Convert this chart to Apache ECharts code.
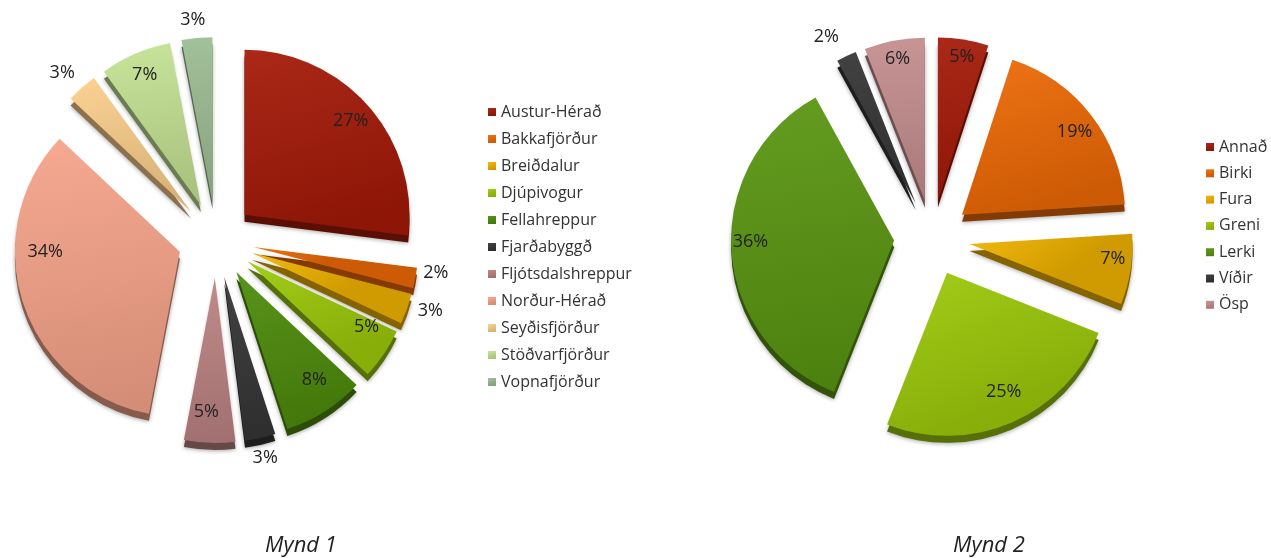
<!DOCTYPE html>
<html>
<head>
<meta charset="utf-8">
<script src="https://cdn.jsdelivr.net/npm/echarts@6/dist/echarts.min.js"></script>
<style>
html,body{margin:0;padding:0;background:#fff;}
#c{width:1271px;height:558px;}
</style>
</head>
<body>
<div id="c"></div>
<script>
// ---- Data ----
const cats1 = ['Austur-Hérað','Bakkafjörður','Breiðdalur','Djúpivogur','Fellahreppur','Fjarðabyggð','Fljótsdalshreppur','Norður-Hérað','Seyðisfjörður','Stöðvarfjörður','Vopnafjörður'];
const vals1 = [27, 2, 3, 5, 8, 3, 5, 34, 3, 7, 3];
const outside1 = ['Bakkafjörður','Breiðdalur','Fjarðabyggð','Seyðisfjörður','Vopnafjörður'];

const cats2 = ['Annað','Birki','Fura','Greni','Lerki','Víðir','Ösp'];
const vals2 = [5, 19, 7, 25, 36, 2, 6];
const outside2 = ['Víðir'];

const titles = ['Mynd 1', 'Mynd 2'];

// ---- Styles ----
const colors1 = ['#a51a08','#ee6a06','#f2b400','#9dca0a','#4e8c0c','#363636','#bc8282','#f6a48a','#fccf8c','#c4e294','#9cbc92'];
const colors2 = ['#a51a08','#ee6a06','#f2b400','#9dca0a','#5a9612','#363636','#c48e8e'];

// small label nudges (px) to mimic the tilted 3D layout of the original
const labelNudge = {
  'Norður-Hérað': [0, -44], 'Djúpivogur': [2, -14], 'Fellahreppur': [2, -12],
  'Fljótsdalshreppur': [-4, -8], 'Vopnafjörður': [14, -12], 'Seyðisfjörður': [2, -10],
  'Bakkafjörður': [-3, -6], 'Fjarðabyggð': [-14, 14],
  'Víðir': [0, -14], 'Annað': [2, -5], 'Ösp': [-1, -4], 'Fura': [5, -7],
  'Greni': [1, -9], 'Lerki': [-4, -7], 'Birki': [2, 3]
};

function shade(hex, f) {
  const n = parseInt(hex.slice(1), 16);
  let r = (n >> 16) & 255, g = (n >> 8) & 255, b = n & 255;
  if (f < 0) { r = Math.round(r * (1 + f)); g = Math.round(g * (1 + f)); b = Math.round(b * (1 + f)); }
  else { r = Math.round(r + (255 - r) * f); g = Math.round(g + (255 - g) * f); b = Math.round(b + (255 - b) * f); }
  return 'rgb(' + r + ',' + g + ',' + b + ')';
}
function grad(hex) {
  return { type: 'linear', x: 0, y: 0, x2: 0.3, y2: 1,
    colorStops: [{ offset: 0, color: shade(hex, 0.06) }, { offset: 1, color: shade(hex, -0.14) }] };
}

const FONT = '"Open Sans", "DejaVu Sans", sans-serif';

function pieSeries(cats, vals, colors, outside, center, R, offset) {
  const base = {
    type: 'pie', startAngle: 90, clockwise: true,
    selectedMode: 'multiple', selectedOffset: offset,
    avoidLabelOverlap: false, animation: false,
    emphasis: { disabled: true }, select: { disabled: false, itemStyle: {} }
  };
  const main = Object.assign({}, base, {
    radius: [0, R], center: center, z: 3,
    label: { show: false }, labelLine: { show: false },
    data: cats.map((n, i) => ({ name: n, value: vals[i], selected: true,
      itemStyle: { color: grad(colors[i]) } }))
  });
  const depth = Object.assign({}, base, {
    radius: [0, R], center: [center[0], center[1] + 7], z: 2, silent: true,
    label: { show: false }, labelLine: { show: false },
    itemStyle: { shadowBlur: 4, shadowColor: 'rgba(0,0,0,0.35)', shadowOffsetY: 1 },
    data: cats.map((n, i) => ({ name: n, value: vals[i], selected: true,
      itemStyle: { color: shade(colors[i], -0.45) } }))
  });
  const labels = Object.assign({}, base, {
    radius: [R * 0.68, R], center: center, z: 4, silent: true,
    label: { show: true, position: 'inside', formatter: '{c}%', fontSize: 18, color: '#222', fontFamily: FONT },
    labelLine: { show: false, length: 6, length2: 0 },
    labelLayout: function (p) {
      const nm = cats[p.dataIndex];
      const d = labelNudge[nm];
      return d ? { dx: d[0], dy: d[1] } : {};
    },
    data: cats.map((n, i) => {
      const d = { name: n, value: vals[i], selected: true, itemStyle: { color: 'rgba(0,0,0,0)' } };
      if (outside.indexOf(n) >= 0) d.label = { position: 'outside' };
      return d;
    })
  });
  return [main, depth, labels];
}

const chart = echarts.init(document.getElementById('c'), null, { renderer: 'canvas' });
const legendBase = {
  orient: 'vertical', icon: 'rect', itemWidth: 8, itemHeight: 8, itemGap: 11, padding: 0,
  selectedMode: false,
  textStyle: { fontSize: 16, color: '#333', fontFamily: FONT }
};
chart.setOption({
  backgroundColor: '#fff',
  animation: false,
  title: [
    { text: titles[0], left: 296, top: 530, textAlign: 'center',
      textStyle: { fontSize: 22, fontStyle: 'italic', fontWeight: 'normal', color: '#222', fontFamily: FONT } },
    { text: titles[1], left: 984, top: 530, textAlign: 'center',
      textStyle: { fontSize: 22, fontStyle: 'italic', fontWeight: 'normal', color: '#222', fontFamily: FONT } }
  ],
  legend: [
    Object.assign({}, legendBase, { data: cats1, left: 488, top: 104 }),
    Object.assign({}, legendBase, { data: cats2, left: 1206, top: 139, itemGap: 10.3 })
  ],
  series: [].concat(
    pieSeries(cats1, vals1, colors1, outside1, [216, 240], 165, 38),
    pieSeries(cats2, vals2, colors2, outside2, [932, 238], 163, 38)
  )
});
</script>
</body>
</html>
